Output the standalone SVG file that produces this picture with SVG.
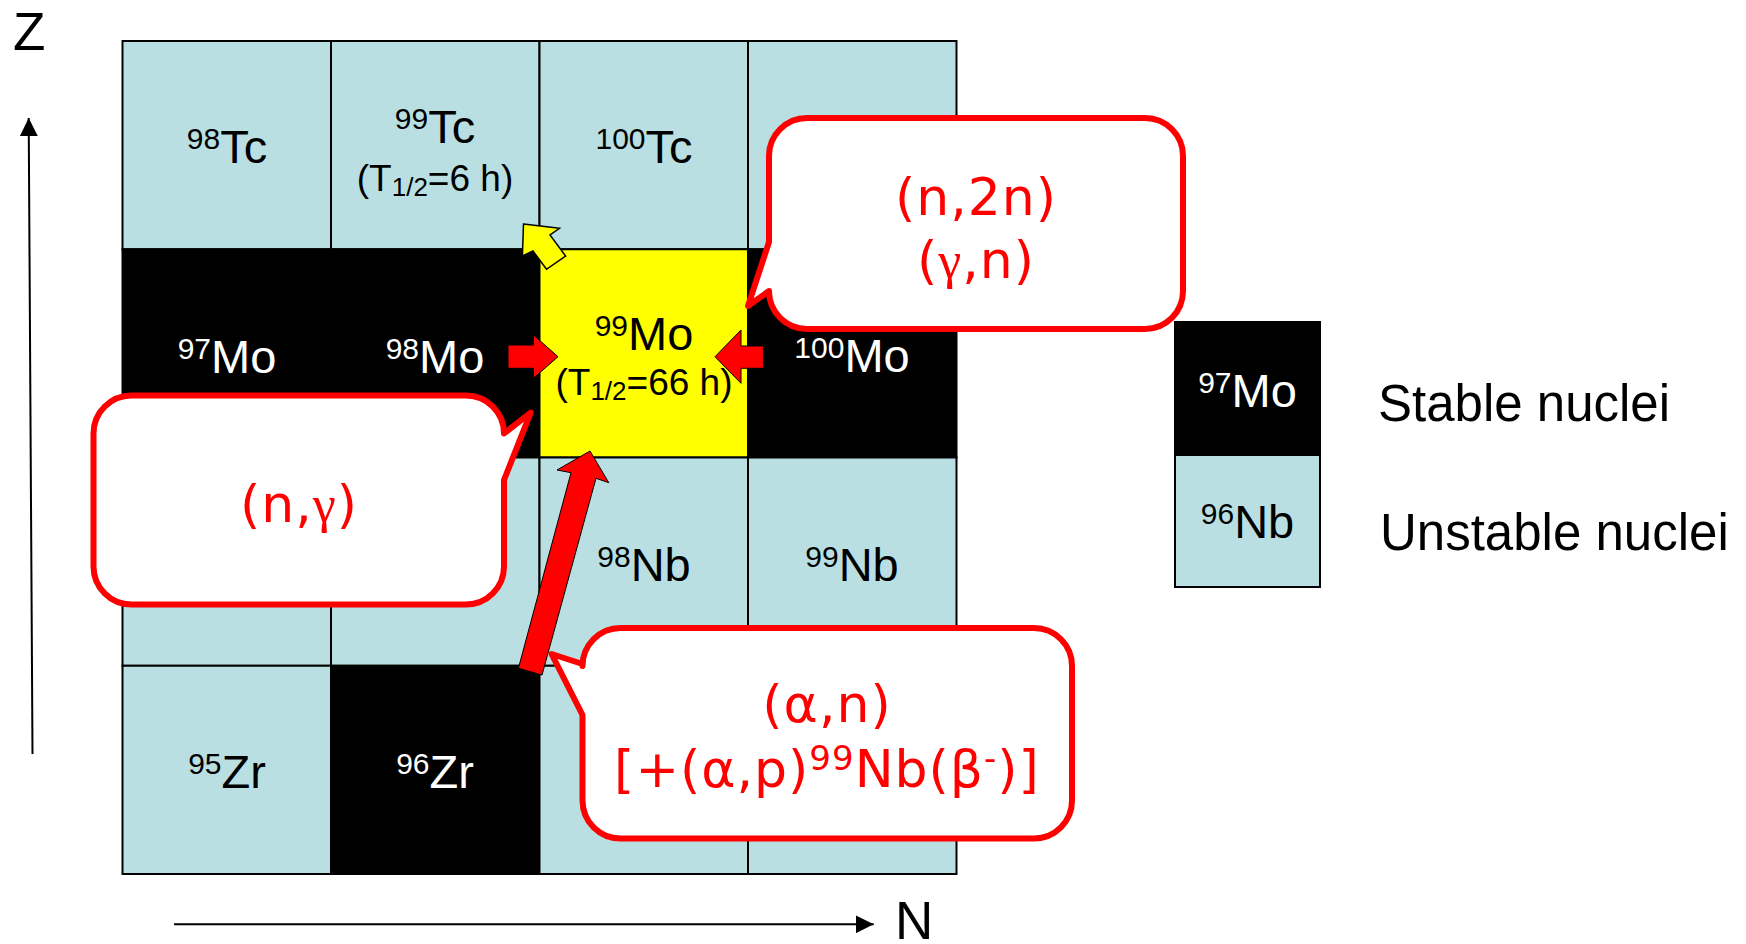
<svg xmlns="http://www.w3.org/2000/svg" width="1746" height="944" viewBox="0 0 1746 944">
<defs>
<style>
.cell{stroke:#000;stroke-width:2}
.blue{fill:#B9DFE2}
.blk{fill:#000}
.yel{fill:#FFFF00}
.lbl{font-family:"Liberation Sans",Arial,sans-serif;font-size:47px;text-anchor:middle;fill:#000}
.w{fill:#fff}
.sup{font-size:30px}
.half{font-family:"Liberation Sans",Arial,sans-serif;font-size:37px;text-anchor:middle;fill:#000}
.sub{font-size:26px}
.callout{fill:#fff;stroke:#FF0000;stroke-width:6;stroke-linejoin:round}
.ct{font-family:"DejaVu Sans",Verdana,sans-serif;font-size:52px;letter-spacing:1px;fill:#FF0000;text-anchor:middle}
.gr{font-family:"Liberation Serif","Times New Roman",serif}
.csup{font-size:34px}
.leg{font-family:"Liberation Sans",Arial,sans-serif;font-size:51px;fill:#000}
.axis{font-family:"Liberation Sans",Arial,sans-serif;font-size:53px;fill:#000}
.axl{stroke:#000;stroke-width:2;fill:none}
.redarr{fill:#FF0000;stroke:#000;stroke-width:1}
</style>
<marker id="ah" viewBox="0 0 18 18" refX="18" refY="9" markerWidth="18" markerHeight="18" markerUnits="userSpaceOnUse" orient="auto">
<path d="M0,0 L18,9 L0,18 z" fill="#000"/>
</marker>
</defs>
<rect width="1746" height="944" fill="#fff"/>

<!-- row 1 -->
<g id="tc98"><rect class="cell blue" x="122.5" y="41" width="208.5" height="208.25"/><text class="lbl" x="227" y="163"><tspan class="sup" dy="-14">98</tspan><tspan dy="14">Tc</tspan></text></g>
<g id="tc99"><rect class="cell blue" x="331" y="41" width="208.5" height="208.25"/><text class="lbl" x="435" y="143"><tspan class="sup" dy="-14">99</tspan><tspan dy="14">Tc</tspan></text><text class="half" x="435" y="191">(T<tspan class="sub" dy="5">1/2</tspan><tspan dy="-5">=6 h)</tspan></text></g>
<g id="tc100"><rect class="cell blue" x="539.5" y="41" width="208.5" height="208.25"/><text class="lbl" x="644" y="163"><tspan class="sup" dy="-14">100</tspan><tspan dy="14">Tc</tspan></text></g>
<g id="tc101"><rect class="cell blue" x="748" y="41" width="208.5" height="208.25"/></g>
<!-- row 2 -->
<g id="mo97"><rect class="cell blk" x="122.5" y="249.25" width="208.5" height="208.25"/><text class="lbl w" x="227" y="372.5"><tspan class="sup" dy="-14">97</tspan><tspan dy="14">Mo</tspan></text></g>
<g id="mo98"><rect class="cell blk" x="331" y="249.25" width="208.5" height="208.25"/><text class="lbl w" x="435" y="372.5"><tspan class="sup" dy="-14">98</tspan><tspan dy="14">Mo</tspan></text></g>
<g id="mo99"><rect class="cell yel" x="539.5" y="249.25" width="208.5" height="208.25"/><text class="lbl" x="644" y="350"><tspan class="sup" dy="-14">99</tspan><tspan dy="14">Mo</tspan></text><text class="half" x="644" y="395">(T<tspan class="sub" dy="5">1/2</tspan><tspan dy="-5">=66 h)</tspan></text></g>
<g id="mo100"><rect class="cell blk" x="748" y="249.25" width="208.5" height="208.25"/><text class="lbl w" x="852" y="372"><tspan class="sup" dy="-14">100</tspan><tspan dy="14">Mo</tspan></text></g>
<!-- row 3 -->
<g id="nb96"><rect class="cell blue" x="122.5" y="457.5" width="208.5" height="208.25"/></g>
<g id="nb97"><rect class="cell blue" x="331" y="457.5" width="208.5" height="208.25"/></g>
<g id="nb98"><rect class="cell blue" x="539.5" y="457.5" width="208.5" height="208.25"/><text class="lbl" x="644" y="580.7"><tspan class="sup" dy="-14">98</tspan><tspan dy="14">Nb</tspan></text></g>
<g id="nb99"><rect class="cell blue" x="748" y="457.5" width="208.5" height="208.25"/><text class="lbl" x="852" y="580.7"><tspan class="sup" dy="-14">99</tspan><tspan dy="14">Nb</tspan></text></g>
<!-- row 4 -->
<g id="zr95"><rect class="cell blue" x="122.5" y="665.75" width="208.5" height="208.25"/><text class="lbl" x="227" y="788"><tspan class="sup" dy="-14">95</tspan><tspan dy="14">Zr</tspan></text></g>
<g id="zr96"><rect class="cell blk" x="331" y="665.75" width="208.5" height="208.25"/><text class="lbl w" x="435" y="788"><tspan class="sup" dy="-14">96</tspan><tspan dy="14">Zr</tspan></text></g>
<g id="zr97"><rect class="cell blue" x="539.5" y="665.75" width="208.5" height="208.25"/></g>
<g id="zr98"><rect class="cell blue" x="748" y="665.75" width="208.5" height="208.25"/></g>

<!-- connectors -->
<g id="connectors">
<line class="axl" x1="32.5" y1="754" x2="28.7" y2="118" marker-end="url(#ah)"/>
<line class="axl" x1="174" y1="924.3" x2="873.7" y2="924.3" marker-end="url(#ah)"/>
<polygon class="redarr" points="508,345 533.5,345 533.5,335 558,356.7 533.5,378.3 533.5,368.3 508,368.3"/>
<polygon class="redarr" points="763.4,346 741,346 741,330 715,356.7 741,383.3 741,368.3 763.4,368.3"/>
<polygon fill="#FFFF00" stroke="#000" stroke-width="1.5" points="523.5,224 559.5,228.3 550,235 565.6,256 546.5,269.3 533,251 522.4,256"/>
<polygon class="redarr" points="590,451 608.8,482.7 596,478.3 542,675 518.4,668.3 571,472.7 557,470"/>
</g>

<!-- callouts -->
<g id="callout-n2n">
<path class="callout" d="M807,118 H1145 A38,38 0 0 1 1183,156 V291 A38,38 0 0 1 1145,329 H807 A38,38 0 0 1 769,291 L748,306 L769,242 V156 A38,38 0 0 1 807,118 Z"/>
<text class="ct" x="976" y="215">(n,2n)</text>
<text class="ct" x="976" y="278">(<tspan class="gr">γ</tspan>,n)</text>
</g>
<g id="callout-ng">
<path class="callout" d="M131.5,395.5 H466 A38,38 0 0 1 504,433.5 L530.7,412.7 L504,480 V566.5 A38,38 0 0 1 466,604.5 H131.5 A38,38 0 0 1 93.5,566.5 V433.5 A38,38 0 0 1 131.5,395.5 Z"/>
<text class="ct" x="299" y="521.7">(n,<tspan class="gr">γ</tspan>)</text>
</g>
<g id="callout-an">
<path class="callout" d="M620.5,628 H1034 A38,38 0 0 1 1072,666 V800.5 A38,38 0 0 1 1034,838.5 H620.5 A38,38 0 0 1 582.5,800.5 V715 L551.6,654 L582.5,664 V666 A38,38 0 0 1 620.5,628 Z"/>
<text class="ct" x="827" y="721.7">(α,n)</text>
<text class="ct" x="827" y="786.7">[+(α,p)<tspan class="csup" dy="-17">99</tspan><tspan dy="17">Nb(β</tspan><tspan class="csup" dy="-17">-</tspan><tspan dy="17">)]</tspan></text>
</g>

<!-- legend -->
<g id="legend-stable"><rect class="cell blk" x="1175" y="322" width="145" height="133"/><text class="lbl w" x="1247.5" y="406.7"><tspan class="sup" dy="-14">97</tspan><tspan dy="14">Mo</tspan></text><text class="leg" x="1378" y="420.7">Stable nuclei</text></g>
<g id="legend-unstable"><rect class="cell blue" x="1175" y="455" width="145" height="132"/><text class="lbl" x="1247.5" y="538.3"><tspan class="sup" dy="-14">96</tspan><tspan dy="14">Nb</tspan></text><text class="leg" x="1380" y="550">Unstable nuclei</text></g>

<g id="axis-labels">
<text class="axis" x="13" y="50">Z</text>
<text class="axis" x="895" y="939">N</text>
</g>
</svg>
